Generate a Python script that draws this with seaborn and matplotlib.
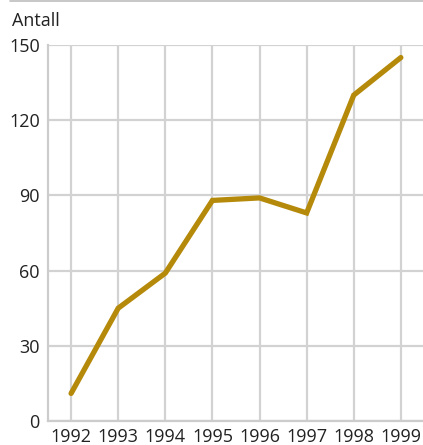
import matplotlib
matplotlib.use("Agg")
import matplotlib.pyplot as plt
import seaborn as sns
import pandas as pd
from matplotlib.lines import Line2D

# data
years = [1992, 1993, 1994, 1995, 1996, 1997, 1998, 1999]
antall = [11, 45, 59, 88, 89, 83, 130, 145]
y_ticks = [0, 30, 60, 90, 120, 150]

df = pd.DataFrame({"year": years, "antall": antall})

sns.set_style("white")
plt.rcParams['font.family'] = ['Open Sans', 'DejaVu Sans']

fig = plt.figure(figsize=(4.23, 4.45), dpi=100)
ax = fig.add_axes([48/423, 24/445, 375/423, 376/445])

sns.lineplot(data=df, x="year", y="antall", ax=ax, color='#b5890a',
             linewidth=3.8, solid_capstyle='round', solid_joinstyle='miter')

ax.set_xlim(1991.51, 1999.47)
ax.set_ylim(0, 150)
ax.set_xticks(years)
ax.set_yticks(y_ticks)
ax.tick_params(axis='both', length=0, labelsize=13, colors='#222222')
ax.tick_params(axis='y', pad=6)
ax.tick_params(axis='x', pad=5)
ax.grid(True, color='#d2d2d2', linewidth=1.6)
ax.set_axisbelow(True)
ax.set_xlabel("")
ax.set_ylabel("")

for s in ['top', 'right']:
    ax.spines[s].set_visible(False)
for s in ['left', 'bottom']:
    ax.spines[s].set_color('#cccccc')
    ax.spines[s].set_linewidth(1.6)

fig.text(12/423, 1 - 21/445, "Antall", fontsize=13, color='#222222', va='center', ha='left')
fig.add_artist(Line2D([10/423, 1], [1 - 1.2/445, 1 - 1.2/445], color='#bdbdbd', linewidth=1.2))

fig.savefig("out.png", dpi=100)
